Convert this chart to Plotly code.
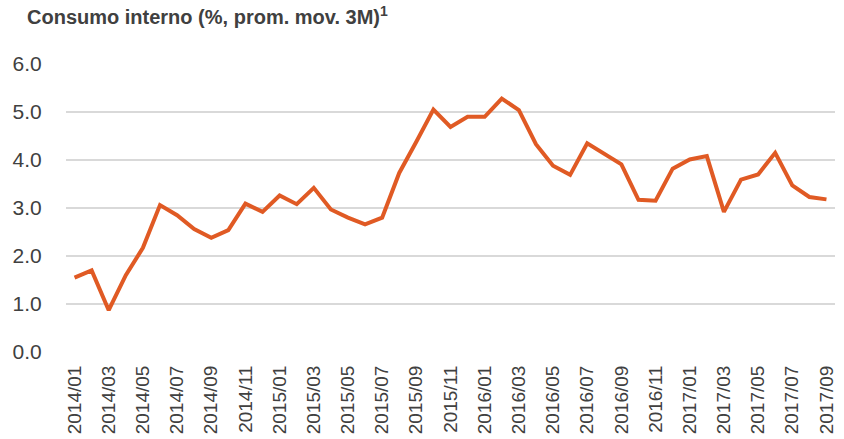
import plotly.graph_objects as go

months = [f"{y}/{m:02d}" for y in range(2014, 2018) for m in range(1, 13)][:45]

values = [1.55, 1.70, 0.87, 1.60, 2.17, 3.06, 2.85, 2.56, 2.38, 2.54,
          3.09, 2.92, 3.26, 3.08, 3.42, 2.97, 2.80, 2.66, 2.80, 3.73,
          4.38, 5.05, 4.69, 4.90, 4.90, 5.28, 5.04, 4.33, 3.88, 3.69,
          4.35, 4.13, 3.91, 3.17, 3.15, 3.82, 4.01, 4.08, 2.92, 3.59,
          3.70, 4.15, 3.47, 3.23, 3.18]

tick_labels = months[::2]
y_ticks = [0, 1, 2, 3, 4, 5, 6]

title_text = "<b>Consumo interno (%, prom. mov. 3M)<sup>1</sup></b>"

W, H = 844, 439
L, R, T, B = 66, 9, 64, 87

fig = go.Figure()
fig.add_trace(go.Scatter(
    x=list(range(len(months))), y=values, mode="lines",
    line=dict(color="#E05A24", width=4),
    hoverinfo="skip", cliponaxis=False,
))

fig.update_layout(
    width=W, height=H,
    margin=dict(l=L, r=R, t=T, b=B),
    paper_bgcolor="white", plot_bgcolor="white",
    font=dict(family="Liberation Sans, Arial, sans-serif", size=20, color="#404040"),
    showlegend=False,
)

plot_w = W - L - R
plot_h = H - T - B
fig.add_annotation(
    text=title_text, showarrow=False,
    xref="paper", yref="paper",
    x=(25 - L) / plot_w, y=1 + (T - 16) / plot_h,
    xanchor="left", yanchor="middle",
    font=dict(size=20, color="#404040", family="Liberation Sans, Arial, sans-serif"),
)

fig.update_xaxes(
    range=[-0.5, len(months) - 0.5],
    tickmode="array",
    tickvals=list(range(0, len(months), 2)),
    ticktext=tick_labels,
    tickangle=-90,
    showgrid=False, zeroline=False, showline=False,
    ticks="outside", ticklen=5, tickcolor="rgba(0,0,0,0)",
    tickfont=dict(size=19, color="#404040"),
    automargin=False,
)
fig.update_yaxes(
    range=[0, 6],
    tickvals=y_ticks,
    tickformat=".1f",
    showgrid=True, gridcolor="#D9D9D9", gridwidth=1.5,
    zeroline=False, showline=False,
    ticks="outside", ticklen=19, tickcolor="rgba(0,0,0,0)",
    tickfont=dict(size=21, color="#404040"),
    automargin=False,
)

fig.write_html("out.html", config={"displayModeBar": False},
               post_script="document.body.style.margin='0';")
